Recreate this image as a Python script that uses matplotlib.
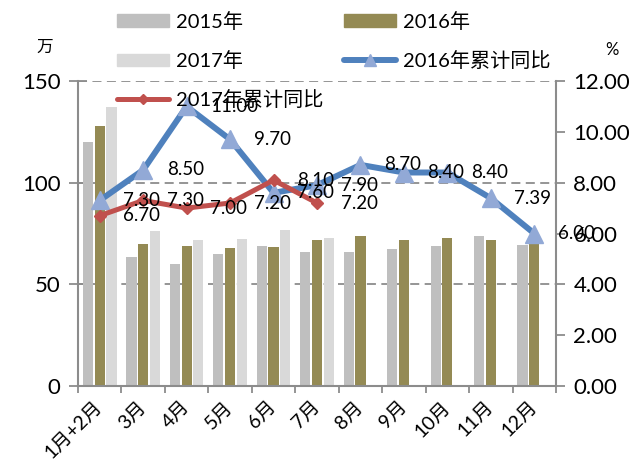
import matplotlib
matplotlib.use('Agg')
import matplotlib.pyplot as plt
from matplotlib.patches import Patch
from matplotlib.lines import Line2D
from matplotlib.ticker import FormatStrFormatter, FixedLocator
import numpy as np

plt.rcParams['font.family'] = ['Lato', 'Noto Sans CJK SC', 'DejaVu Sans']

months = ['1月+2月', '3月', '4月', '5月', '6月', '7月', '8月', '9月', '10月', '11月', '12月']
sales_2015 = [120, 63.5, 60, 65, 69, 66, 66, 67.5, 69, 73.6, 69.5]
sales_2016 = [128, 70, 69, 68, 68.5, 72, 74, 72, 73, 71.6, 70.5]
sales_2017 = [137, 76, 72, 72.5, 76.5, 73]
yoy_2016 = [7.30, 8.50, 11.00, 9.70, 7.60, 7.90, 8.70, 8.40, 8.40, 7.39, 6.00]
yoy_2017 = [6.70, 7.30, 7.00, 7.20, 8.10, 7.20]

c15, c16, c17 = '#BFBFBF', '#948A54', '#D9D9D9'
cblue, cblue_m, cred = '#4F81BD', '#92A9D6', '#C0504D'
gray = '#8C8C8C'

W, H = 642, 465
fig = plt.figure(figsize=(W / 100, H / 100), dpi=100)
ax = fig.add_axes([78 / W, 1 - 386 / H, (556 - 78) / W, (386 - 81) / H])

x = np.arange(len(months))
w, step = 0.235, 0.27
ax.bar(x - step, sales_2015, w, color=c15, zorder=2)
ax.bar(x, sales_2016, w, color=c16, zorder=2)
ax.bar(x[:len(sales_2017)] + step, sales_2017, w, color=c17, zorder=2)

ax.set_xlim(-0.5, len(months) - 0.5)
ax.set_ylim(0, 150)
ax.set_yticks([0, 50, 100, 150])
ax.yaxis.grid(True, linestyle=(0, (5, 3)), color=gray, lw=1.3, zorder=0)
ax.set_axisbelow(True)

ax.xaxis.set_major_locator(FixedLocator(np.arange(-0.5, len(months), 1.0)))
ax.xaxis.set_minor_locator(FixedLocator(x))
ax.xaxis.set_major_formatter(plt.NullFormatter())
ax.set_xticks(x, minor=True)
ax.set_xticklabels(months, minor=True, rotation=45, ha='right', va='center',
                   rotation_mode='anchor', fontsize=14)
ax.tick_params(axis='x', which='major', direction='out', length=5, width=1.3, color=gray)
ax.tick_params(axis='x', which='minor', length=0, pad=13)
ax.tick_params(axis='y', direction='inout', length=13, width=1.3, color=gray,
               labelsize=16, pad=6)

for s in ['left', 'bottom']:
    ax.spines[s].set_color(gray)
    ax.spines[s].set_linewidth(1.5)
ax.spines['top'].set_visible(False)
ax.spines['right'].set_visible(False)

ax2 = ax.twinx()
ax2.set_ylim(0, 12)
ax2.set_yticks(np.arange(0, 13, 2))
ax2.yaxis.set_major_formatter(FormatStrFormatter('%.2f'))
ax2.tick_params(axis='y', direction='out', length=6.5, width=1.3, color=gray,
                labelsize=16, pad=6)
for s in ['left', 'top', 'bottom']:
    ax2.spines[s].set_visible(False)
ax2.spines['right'].set_color(gray)
ax2.spines['right'].set_linewidth(1.5)

ax2.plot(x, yoy_2016, color=cblue, lw=4.3, marker='^', markersize=13,
         markerfacecolor=cblue_m, markeredgecolor=cblue_m, solid_joinstyle='round',
         solid_capstyle='round', zorder=3)
x17 = x[:len(yoy_2017)]
ax2.plot(x17, yoy_2017, color=cred, lw=3.6, marker='D', markersize=6,
         markerfacecolor=cred, markeredgecolor=cred, solid_joinstyle='round',
         solid_capstyle='round', zorder=3)

for xi, v in zip(x, yoy_2016):
    ax2.annotate(f'{v:.2f}', (xi, v), xytext=(17, 0), textcoords='offset points',
                 ha='left', va='center', fontsize=13.5, zorder=5)
for xi, v in zip(x17, yoy_2017):
    ax2.annotate(f'{v:.2f}', (xi, v), xytext=(17, 0), textcoords='offset points',
                 ha='left', va='center', fontsize=13.5, zorder=5)

fig.text(45 / W, 1 - 47 / H, '万', ha='center', va='center', fontsize=12)
fig.text(612 / W, 1 - 50 / H, '%', ha='center', va='center', fontsize=12)

h15 = Patch(color=c15)
h16 = Patch(color=c16)
h17 = Patch(color=c17)
hb = Line2D([], [], color=cblue, lw=4.3, marker='^', markersize=9,
            markerfacecolor=cblue_m, markeredgecolor=cblue_m, solid_capstyle='round')
hr = Line2D([], [], color=cred, lw=3.6, marker='D', markersize=5,
            markerfacecolor=cred, markeredgecolor=cred, solid_capstyle='round')
handles = [h15, h17, hr, h16, hb]
labels = ['2015年', '2017年', '2017年累计同比', '2016年', '2016年累计同比']
fig.legend(handles, labels, loc='upper left', bbox_to_anchor=(117 / W, 1 - 12 / H),
           ncol=2, frameon=False, fontsize=14.5, handlelength=2.6, handleheight=0.6,
           handletextpad=0.35, columnspacing=1.0, labelspacing=1.0,
           borderpad=0, borderaxespad=0)

fig.savefig('out.png', dpi=100)
